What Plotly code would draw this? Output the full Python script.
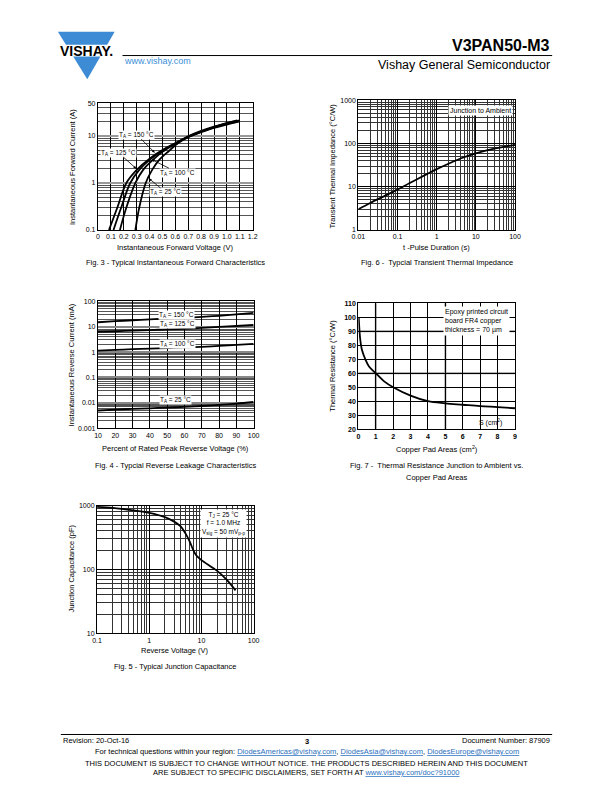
import plotly.graph_objects as go
import math

W, H = 612, 792
F = "Liberation Sans, Arial, sans-serif"

def px(x):
    return x / W

def py(y):
    return 1 - y / H

# ---------------- DATA ----------------
# Fig 3 - forward characteristics (V, A)
fwd_v_150 = [0.085, 0.15, 0.22, 0.30, 0.40, 0.50, 0.60, 0.70, 0.80, 0.90, 1.00, 1.10]
fwd_i_150 = [0.1, 0.3, 1.0, 1.9, 3.3, 5.0, 7.0, 9.5, 12.0, 14.8, 17.5, 20.5]
fwd_v_125 = [0.12, 0.18, 0.25, 0.32, 0.40, 0.50, 0.60, 0.70, 0.80, 0.90, 1.00, 1.10]
fwd_i_125 = [0.1, 0.3, 1.0, 1.9, 3.1, 4.9, 7.0, 9.7, 12.4, 15.3, 18.2, 21.0]
fwd_v_100 = [0.17, 0.22, 0.29, 0.35, 0.42, 0.50, 0.60, 0.70, 0.80, 0.90, 1.00, 1.10]
fwd_i_100 = [0.1, 0.3, 1.0, 1.9, 3.0, 4.6, 6.8, 9.8, 12.8, 15.8, 18.8, 21.5]
fwd_v_25 = [0.29, 0.32, 0.37, 0.42, 0.47, 0.55, 0.62, 0.70, 0.80, 0.90, 1.00, 1.08]
fwd_i_25 = [0.1, 0.3, 1.0, 1.9, 3.0, 4.8, 7.0, 9.4, 12.3, 15.5, 18.8, 21.5]

# Fig 6 - transient thermal impedance
zth_t = [0.01, 0.02, 0.05, 0.1, 0.2, 0.5, 1, 2, 5, 10, 20, 50, 100]
zth_z = [3.0, 4.2, 6.3, 8.6, 12.0, 18.5, 25.5, 34.0, 48.0, 59.0, 70.0, 83.0, 93.0]

# Fig 4 - reverse leakage (% VRRM, mA)
rev_pct = [10, 20, 30, 40, 50, 60, 70, 80, 90, 100]
rev_150 = [15.0, 16.5, 18.0, 19.5, 21.0, 22.5, 24.5, 27.0, 30.5, 35.0]
rev_125 = [6.3, 6.6, 7.0, 7.4, 7.8, 8.3, 9.0, 9.8, 10.7, 11.7]
rev_100 = [1.15, 1.22, 1.3, 1.37, 1.45, 1.53, 1.62, 1.75, 1.92, 2.1]
rev_25 = [0.0050, 0.0054, 0.0058, 0.0061, 0.0065, 0.0069, 0.0075, 0.0083, 0.0093, 0.0108]

# Fig 7 - thermal resistance vs copper pad area
pad_area = [0.02, 0.1, 0.2, 0.4, 0.6, 1.0, 1.5, 2.0, 3.0, 4.0, 5.0, 6.0, 7.0, 8.0, 9.0]
pad_rth = [100, 85, 77, 70, 65, 60, 54, 50, 44, 40, 38.5, 37.5, 36.5, 35.8, 35]

# Fig 5 - junction capacitance
cap_v = [0.1, 0.2, 0.5, 1, 2, 3, 4, 5, 6, 7, 8, 10, 20, 30, 45]
cap_c = [950, 920, 840, 770, 660, 560, 470, 360, 270, 200, 165, 140, 95, 70, 47]

fwd_xticks = [0, 0.1, 0.2, 0.3, 0.4, 0.5, 0.6, 0.7, 0.8, 0.9, 1.0, 1.1, 1.2]
fwd_xlabels = ["0", "0.1", "0.2", "0.3", "0.4", "0.5", "0.6", "0.7", "0.8", "0.9", "1.0", "1.1", "1.2"]

# ---------------- FIGURE ----------------
fig = go.Figure()
LW = 1.8
for xs, ys in ((fwd_v_150, fwd_i_150), (fwd_v_125, fwd_i_125), (fwd_v_100, fwd_i_100), (fwd_v_25, fwd_i_25)):
    fig.add_trace(go.Scatter(x=xs, y=ys, mode="lines", line=dict(color="black", width=LW, shape="spline"),
                             xaxis="x", yaxis="y"))

fig.add_trace(go.Scatter(x=zth_t, y=zth_z, mode="lines", line=dict(color="black", width=LW, shape="spline"),
                         xaxis="x2", yaxis="y2"))

for ser in (rev_150, rev_125, rev_100, rev_25):
    fig.add_trace(go.Scatter(x=rev_pct, y=ser, mode="lines", line=dict(color="black", width=LW, shape="spline"),
                             xaxis="x3", yaxis="y3"))

fig.add_trace(go.Scatter(x=pad_area, y=pad_rth, mode="lines", line=dict(color="black", width=LW, shape="spline"),
                         xaxis="x4", yaxis="y4"))

fig.add_trace(go.Scatter(x=cap_v, y=cap_c, mode="lines", line=dict(color="black", width=LW, shape="spline"),
                         xaxis="x5", yaxis="y5"))


def minor_vals(e0, e1, vmax=None):
    out = []
    for e in range(e0, e1):
        for k in range(2, 10):
            v = k * 10 ** e
            if vmax is None or v < vmax:
                out.append(v)
    return out


def base_axis(dom, anchor):
    return dict(domain=dom, anchor=anchor, showline=True, linecolor="black", linewidth=1.2,
                mirror=True, ticks="", showgrid=True, gridcolor="black", gridwidth=0.8,
                zeroline=False, tickfont=dict(size=7, family=F, color="black"), fixedrange=True)


def xdom(a, b):
    return [px(a), px(b)]


def ydom(top, bot):
    return [py(bot), py(top)]


minor_style = dict(showgrid=True, gridcolor="#555555", gridwidth=0.6, ticks="")
minor_dark = dict(showgrid=True, gridcolor="#333333", gridwidth=0.7, ticks="")

# Fig 3
ax1 = base_axis(xdom(93, 251), "y")
ax1.update(range=[0, 1.2], tickmode="array", tickvals=fwd_xticks, ticktext=fwd_xlabels)
ay1 = base_axis(ydom(100, 228), "x")
ay1.update(type="log", range=[-1, math.log10(50)], tickmode="array", tickvals=[0.1, 1, 10, 50],
           ticktext=["0.1", "1", "10", "50"], gridcolor="#999999", gridwidth=2,
           minor=dict(tickmode="array", tickvals=minor_vals(-1, 2, 50), **minor_style))

# Fig 6
ax2 = base_axis(xdom(359, 519), "y2")
ax2.update(type="log", range=[-2, 2], tickmode="array", tickvals=[0.01, 0.1, 1, 10, 100],
           ticktext=["0.01", "0.1", "1", "10", "100"],
           minor=dict(tickmode="array", tickvals=minor_vals(-2, 2), **minor_dark))
ay2 = base_axis(ydom(97, 228), "x2")
ay2.update(type="log", range=[0, 3], tickmode="array", tickvals=[1, 10, 100, 1000],
           ticktext=["1", "10", "100", "1000"],
           minor=dict(tickmode="array", tickvals=minor_vals(0, 3), **minor_dark))

# Fig 4
ax3 = base_axis(xdom(93, 252), "y3")
ax3.update(range=[10, 100], tickmode="array", tickvals=list(range(10, 101, 10)))
ay3 = base_axis(ydom(300, 428), "x3")
ay3.update(type="log", range=[-3, 2], tickmode="array", tickvals=[0.001, 0.01, 0.1, 1, 10, 100],
           ticktext=["0.001", "0.01", "0.1", "1", "10", "100"], gridcolor="#888888", gridwidth=2,
           minor=dict(tickmode="array", tickvals=minor_vals(-3, 2), **minor_style))

# Fig 7
ax4 = base_axis(xdom(359, 519), "y4")
ax4.update(range=[0, 9], tickmode="array", tickvals=list(range(0, 10)))
ay4 = base_axis(ydom(302, 429), "x4")
ay4.update(range=[20, 110], tickmode="array", tickvals=list(range(20, 111, 10)))
ax4["tickfont"] = dict(size=7, family=F, color="black", weight="bold")
ay4["tickfont"] = dict(size=7, family=F, color="black", weight="bold")

# Fig 5
ax5 = base_axis(xdom(92, 252), "y5")
ax5.update(type="log", range=[-1, 2], tickmode="array", tickvals=[0.1, 1, 10, 100],
           ticktext=["0.1", "1", "10", "100"],
           minor=dict(tickmode="array", tickvals=minor_vals(-1, 2), **minor_dark))
ay5 = base_axis(ydom(506, 635), "x5")
ay5.update(type="log", range=[1, 3], tickmode="array", tickvals=[10, 100, 1000],
           ticktext=["10", "100", "1000"],
           minor=dict(tickmode="array", tickvals=minor_vals(1, 3), **minor_dark))

ann = []


def text(x, y, t, size=7.5, xanchor="center", yanchor="middle", color="black", bold=False, **kw):
    if bold:
        t = "<b>" + t + "</b>"
    d = dict(x=px(x), y=py(y), xref="paper", yref="paper", text=t, showarrow=False,
             xanchor=xanchor, yanchor=yanchor, font=dict(size=size, family=F, color=color))
    d.update(kw)
    ann.append(d)


def vtext(x, y, t, size=7.5):
    ann.append(dict(x=px(x), y=py(y), xref="paper", yref="paper", text=t, showarrow=False,
                    textangle=-90, xanchor="center", yanchor="middle",
                    font=dict(size=size, family=F, color="black")))


def arrow_label(tipx, tipy, tx, ty, t):
    ann.append(dict(x=px(tipx), y=py(tipy), xref="paper", yref="paper", text=t,
                    showarrow=True, ax=tx - tipx, ay=ty - tipy, arrowhead=2, arrowsize=0.7,
                    arrowwidth=0.8, arrowcolor="black", bgcolor="white", borderpad=0,
                    font=dict(size=6.5, family=F, color="black")))


# Header
text(557, 42, "V3PAN50-M3", size=16, xanchor="right", bold=True)
text(557, 62, "Vishay General Semiconductor", size=12.5, xanchor="right")
text(118, 58, "www.vishay.com", size=9, xanchor="left", color="#3a8fd8")
text(81, 47, "VISHAY.", size=14, bold=True)

# Fig 3 labels
arrow_label(151, 150, 133, 132, "T<sub>A</sub> = 150 °C")
arrow_label(132, 166, 114, 150, "T<sub>A</sub> = 125 °C")
arrow_label(148, 157, 174, 170, "T<sub>A</sub> = 100 °C")
arrow_label(145, 176, 162, 190, "T<sub>A</sub> = 25 °C")
vtext(67, 165, "Instantaneous Forward Current (A)")
text(172, 246, "Instantaneous Forward Voltage (V)")
text(172, 261, "Fig. 3 - Typical Instantaneous Forward Characteristics", size=7.5)

# Fig 6 labels
text(484, 107, "Junction to Ambient", size=7, bgcolor="white", borderpad=1)
vtext(333, 163, "Transient Thermal Impedance (°C/W)")
text(439, 246, "t -Pulse Duration (s)")
text(439, 261, "Fig. 6 -  Typcial Transient Thermal Impedance", size=7.5)

# Fig 4 labels
text(173, 314, "T<sub>A</sub> = 150 °C", size=6.5, bgcolor="white", borderpad=0)
text(174, 323, "T<sub>A</sub> = 125 °C", size=6.5, bgcolor="white", borderpad=0)
text(174, 343, "T<sub>A</sub> = 100 °C", size=6.5, bgcolor="white", borderpad=0)
text(172, 400, "T<sub>A</sub> = 25 °C", size=6.5, bgcolor="white", borderpad=0)
vtext(66, 364, "Instantaneous Reverse Current (mA)")
text(172, 448, "Percent of Rated Peak Reverse Voltage (%)")
text(172, 466, "Fig. 4 - Typcial Reverse Leakage Characteristics", size=7.5)

# Fig 7 labels
text(445, 320, "Epoxy printed circuit<br>board FR4 copper<br>thickness = 70 µm", size=7,
     xanchor="left", align="left", bgcolor="white", borderpad=1)
text(494, 422, "S (cm<sup>2</sup>)", size=7)
vtext(333, 365, "Thermal Resistance (°C/W)")
text(439, 449, "Copper Pad Areas (cm<sup>2</sup>)")
text(439, 466, "Fig. 7 -  Thermal Resistance Junction to Ambient vs.", size=7.5)
text(439, 478, "Copper Pad Areas", size=7.5)

# Fig 5 labels
text(221, 524, "T<sub>J</sub> = 25 °C<br>f = 1.0 MHz<br>V<sub>sig</sub> = 50 mV<sub>p-p</sub>", size=6.5,
     bgcolor="white", borderpad=1)
vtext(66, 570, "Junction Capacitance (pF)")
text(172, 652, "Reverse Voltage (V)")
text(172, 668, "Fig. 5 - Typical Junction Capacitance", size=7.5)

# Footer
text(55, 743, "Revision: 20-Oct-16", size=7.5, xanchor="left")
text(306, 744, "3", size=7.5, bold=True)
text(557, 743, "Document Number: 87909", size=7.5, xanchor="right")
L = "#2a6fc0"
text(306, 754, "For technical questions within your region: "
     f"<span style='color:{L}'><u>DiodesAmericas@vishay.com</u></span>, "
     f"<span style='color:{L}'><u>DiodesAsia@vishay.com</u></span>, "
     f"<span style='color:{L}'><u>DiodesEurope@vishay.com</u></span>", size=7.5)
text(306, 766, "THIS DOCUMENT IS SUBJECT TO CHANGE WITHOUT NOTICE. THE PRODUCTS DESCRIBED HEREIN AND THIS DOCUMENT", size=7.5)
text(306, 775, "ARE SUBJECT TO SPECIFIC DISCLAIMERS, SET FORTH AT "
     f"<span style='color:{L}'><u>www.vishay.com/doc?91000</u></span>", size=7.5)

shapes = [
    # Vishay logo triangle
    dict(type="path", xref="paper", yref="paper",
         path=f"M {px(52)},{py(28)} L {px(110)},{py(28)} L {px(82)},{py(76)} Z",
         fillcolor="#3d8bd4", line=dict(width=0)),
    dict(type="rect", xref="paper", yref="paper", x0=px(48), x1=px(114), y0=py(53), y1=py(41),
         fillcolor="white", line=dict(width=0)),
    # header line
    dict(type="line", xref="paper", yref="paper", x0=px(118), x1=px(557), y0=py(52), y1=py(52),
         line=dict(color="black", width=1)),
    # footer line
    dict(type="line", xref="paper", yref="paper", x0=px(55), x1=px(557), y0=py(737), y1=py(737),
         line=dict(color="black", width=1)),
]
# heavier grey grid lines of Fig. 7
for xv in (1, 5):
    shapes.append(dict(type="line", xref="x4", yref="y4 domain", x0=xv, x1=xv, y0=0, y1=1,
                       layer="below", line=dict(color="#999999", width=2)))
for yv in (60, 90):
    shapes.append(dict(type="line", xref="x4 domain", yref="y4", x0=0, x1=1, y0=yv, y1=yv,
                       layer="below", line=dict(color="#999999", width=2)))

fig.update_layout(
    width=W, height=H, margin=dict(l=0, r=0, t=0, b=0, pad=0), autosize=False,
    paper_bgcolor="white", plot_bgcolor="white", showlegend=False,
    font=dict(family=F, color="black"),
    xaxis=ax1, yaxis=ay1, xaxis2=ax2, yaxis2=ay2, xaxis3=ax3, yaxis3=ay3,
    xaxis4=ax4, yaxis4=ay4, xaxis5=ax5, yaxis5=ay5,
    annotations=ann, shapes=shapes,
)

fig.write_html("out.html", config={"displayModeBar": False, "responsive": False},
               post_script="document.body.style.margin='0px';document.body.style.overflow='hidden';")
